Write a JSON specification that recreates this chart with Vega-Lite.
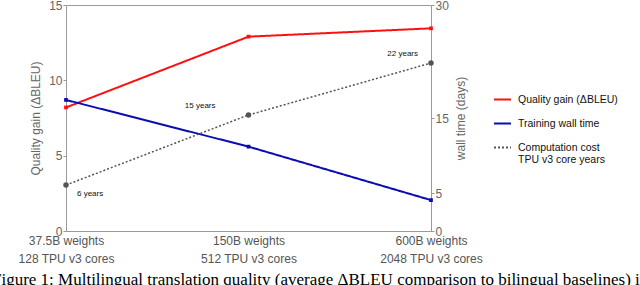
{
  "$schema": "https://vega.github.io/schema/vega-lite/v6.json",
  "width": 365,
  "height": 226,
  "autosize": {"type": "none"},
  "padding": {"left": 66, "top": 5, "right": 209, "bottom": 54},
  "background": "white",
  "title": {
    "text": "Figure 1: Multilingual translation quality (average ΔBLEU comparison to bilingual baselines) in",
    "orient": "bottom",
    "anchor": "start",
    "font": "Liberation Serif",
    "fontSize": 17,
    "fontWeight": "normal",
    "color": "#000",
    "baseline": "top",
    "dx": -26,
    "offset": 8
  },
  "config": {
    "view": {"stroke": "#9a9a9a", "strokeWidth": 1},
    "axis": {
      "labelFont": "Liberation Sans",
      "titleFont": "Liberation Sans",
      "labelColor": "#666",
      "titleColor": "#666",
      "labelFontSize": 12,
      "titleFontSize": 12,
      "titleFontWeight": "normal",
      "domainColor": "#9a9a9a",
      "tickColor": "#9a9a9a",
      "grid": false
    },
    "legend": {
      "orient": "none",
      "legendX": 427,
      "legendY": 85,
      "labelFont": "Liberation Sans",
      "labelFontSize": 10.5,
      "labelColor": "#111",
      "symbolType": "stroke",
      "symbolStrokeWidth": 2,
      "symbolSize": 289,
      "rowPadding": 9,
      "labelOffset": 6,
      "labelLimit": 300
    }
  },
  "data": {
    "values": [
      {"model": "37.5B weights|128 TPU v3 cores", "series": "Quality gain (ΔBLEU)", "value": 8.2, "label": ""},
      {"model": "150B weights|512 TPU v3 cores", "series": "Quality gain (ΔBLEU)", "value": 12.9, "label": ""},
      {"model": "600B weights|2048 TPU v3 cores", "series": "Quality gain (ΔBLEU)", "value": 13.45, "label": ""},
      {"model": "37.5B weights|128 TPU v3 cores", "series": "Training wall time", "value": 17.4, "label": ""},
      {"model": "150B weights|512 TPU v3 cores", "series": "Training wall time", "value": 11.2, "label": ""},
      {"model": "600B weights|2048 TPU v3 cores", "series": "Training wall time", "value": 4.1, "label": ""},
      {"model": "37.5B weights|128 TPU v3 cores", "series": "Computation cost", "value": 6.1, "label": "6 years"},
      {"model": "150B weights|512 TPU v3 cores", "series": "Computation cost", "value": 15.4, "label": "15 years"},
      {"model": "600B weights|2048 TPU v3 cores", "series": "Computation cost", "value": 22.3, "label": "22 years"}
    ]
  },
  "encoding": {
    "x": {
      "field": "model",
      "type": "ordinal",
      "sort": null,
      "scale": {"type": "point", "padding": 0},
      "axis": {
        "title": null,
        "labelAngle": 0,
        "labelExpr": "split(datum.label, '|')",
        "labelLineHeight": 18,
        "labelColor": "#555",
        "labelPadding": 4,
        "tickSize": 0,
        "domain": true
      }
    }
  },
  "layer": [
    {
      "transform": [{"filter": "datum.series == 'Quality gain (ΔBLEU)'"}],
      "mark": {"type": "line", "strokeWidth": 2, "point": {"filled": true, "shape": "square", "size": 14}},
      "encoding": {
        "y": {
          "field": "value",
          "type": "quantitative",
          "scale": {"domain": [0, 15], "nice": false},
          "axis": {"orient": "left", "values": [0, 5, 10, 15], "title": "Quality gain (ΔBLEU)", "tickSize": 3, "labelPadding": 1, "titlePadding": 6}
        },
        "color": {
          "field": "series",
          "type": "nominal",
          "scale": {"domain": ["Quality gain (ΔBLEU)", "Training wall time", "Computation cost"], "range": ["#ff1010", "#0c0cb0", "#555555"]},
          "legend": {"title": null, "labelExpr": "datum.label == 'Computation cost' ? ['Computation cost', 'TPU v3 core years'] : datum.label"}
        },
        "strokeDash": {
          "field": "series",
          "type": "nominal",
          "scale": {"domain": ["Quality gain (ΔBLEU)", "Training wall time", "Computation cost"], "range": [[1, 0], [1, 0], [2, 2]]},
          "legend": {"title": null, "labelExpr": "datum.label == 'Computation cost' ? ['Computation cost', 'TPU v3 core years'] : datum.label"}
        }
      }
    },
    {
      "encoding": {
        "y": {
          "field": "value",
          "type": "quantitative",
          "scale": {"domain": [0, 30], "nice": false},
          "axis": {"orient": "right", "values": [0, 5, 15, 30], "title": "wall time (days)", "titleAngle": 270, "titleBaseline": "top", "tickSize": 3, "labelPadding": 1, "titlePadding": 7}
        }
      },
      "layer": [
        {
          "transform": [{"filter": "datum.series == 'Training wall time'"}],
          "mark": {"type": "line", "strokeWidth": 2, "point": {"filled": true, "shape": "square", "size": 14}},
          "encoding": {
            "color": {"field": "series", "type": "nominal"},
            "strokeDash": {"field": "series", "type": "nominal"}
          }
        },
        {
          "transform": [{"filter": "datum.series == 'Computation cost'"}],
          "mark": {"type": "line", "strokeWidth": 1.5, "point": {"filled": true, "shape": "circle", "size": 30}},
          "encoding": {
            "color": {"field": "series", "type": "nominal"},
            "strokeDash": {"field": "series", "type": "nominal"}
          }
        },
        {
          "transform": [{"filter": "datum.label == '6 years'"}],
          "mark": {"type": "text", "align": "left", "baseline": "middle", "dx": 11, "dy": 9, "fontSize": 8, "font": "Liberation Sans", "color": "#111"},
          "encoding": {"text": {"field": "label"}}
        },
        {
          "transform": [{"filter": "datum.label == '15 years'"}],
          "mark": {"type": "text", "align": "right", "baseline": "middle", "dx": -33, "dy": -9, "fontSize": 8, "font": "Liberation Sans", "color": "#111"},
          "encoding": {"text": {"field": "label"}}
        },
        {
          "transform": [{"filter": "datum.label == '22 years'"}],
          "mark": {"type": "text", "align": "right", "baseline": "middle", "dx": -13, "dy": -9, "fontSize": 8, "font": "Liberation Sans", "color": "#111"},
          "encoding": {"text": {"field": "label"}}
        }
      ]
    }
  ],
  "resolve": {"scale": {"y": "independent"}}
}
